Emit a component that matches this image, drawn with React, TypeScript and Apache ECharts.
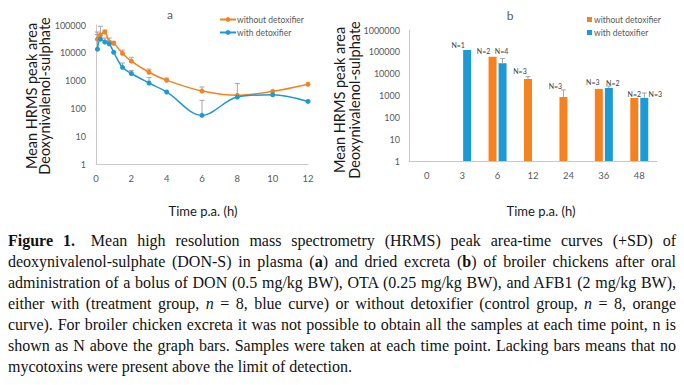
import React, { useEffect, useRef } from 'react';
import * as echarts from 'echarts';

// ---- Panel a: plasma (time in h) ----
const times = [0.083, 0.25, 0.5, 0.75, 1, 1.5, 2, 3, 4, 6, 8, 10, 12];
const plasmaWithout = [31000, 44000, 56000, 24500, 22000, 9500, 5000, 2000, 1030, 420, 295, 410, 740];
const plasmaWith = [13500, 31000, 24500, 21000, 10500, 3000, 1800, 820, 390, 56, 256, 310, 178];
const plasmaWithoutTop = [56000, 90000, 65000, 34000, 26000, 12500, 6900, 2600, 1230, 590, 780, null, null];
const plasmaWithTop = [45000, null, 34000, 26000, null, 4300, 2300, 1300, null, 195, null, null, null];
const xTicksA = [0, 2, 4, 6, 8, 10, 12];

// ---- Panel b: excreta ----
const categoriesB = ['0', '3', '6', '12', '24', '36', '48'];
const excretaWithout = [null, null, 60000, 5700, 850, 2000, 770];
const excretaWith = [null, 121000, 30000, null, null, 2200, 780];
const excretaWithoutTop = [null, null, null, 7300, 1800, null, null];
const excretaWithTop = [null, null, 50000, null, null, 2700, 1300];
const nWithout = [null, null, 2, 3, 3, 3, 2];
const nWith = [null, 1, 4, null, null, 2, 3];

const seriesNames = ['without detoxifier', 'with detoxifier'];

const ORANGE = '#F5821F';
const BLUE = '#1B9AD6';
const GREY_TXT = '#595959';
const AXIS = '#c9c9c9';
const FONT = 'Lato, "Noto Sans", sans-serif';

// label offsets (style only)
const offWithout: (number[] | null)[] = [null, null, [-9, 0], [-8, -2.5], [-8, -5.5], [-6, -1.5], [0, 1.5]];
const offWith: (number[] | null)[] = [null, [-9, 0], [-1, -6.5], null, null, [4, 0], [11, 1.5]];

function errLineItem(p0: number[], p1: number[]) {
  const st = { stroke: '#a6a6a6', lineWidth: 1 };
  return {
    type: 'group',
    children: [
      { type: 'line', shape: { x1: p0[0], y1: p0[1], x2: p1[0], y2: p1[1] }, style: st },
      { type: 'line', shape: { x1: p1[0] - 2.5, y1: p1[1], x2: p1[0] + 2.5, y2: p1[1] }, style: st },
    ],
  };
}

function errSeriesA(means: number[], tops: (number | null)[], z: number) {
  const data: number[][] = [];
  times.forEach((t, i) => {
    const tp = tops[i];
    if (tp != null) data.push([t, means[i], tp]);
  });
  return {
    type: 'custom',
    xAxisIndex: 0,
    yAxisIndex: 0,
    z,
    silent: true,
    encode: { x: 0, y: [1, 2] },
    data,
    renderItem: (_p: any, api: any) => {
      const p0 = api.coord([api.value(0), api.value(1)]);
      const p1 = api.coord([api.value(0), api.value(2)]);
      return errLineItem(p0, p1);
    },
  };
}

function errSeriesB(means: (number | null)[], tops: (number | null)[], dx: number) {
  const data: number[][] = [];
  categoriesB.forEach((_c, i) => {
    const tp = tops[i];
    const m = means[i];
    if (tp != null && m != null) data.push([i, m, tp]);
  });
  return {
    type: 'custom',
    xAxisIndex: 1,
    yAxisIndex: 1,
    z: 5,
    silent: true,
    encode: { x: 0, y: [1, 2] },
    data,
    renderItem: (_p: any, api: any) => {
      const a = api.coord([api.value(0), api.value(1)]);
      const b = api.coord([api.value(0), api.value(2)]);
      return errLineItem([a[0] + dx, a[1]], [b[0] + dx, b[1]]);
    },
  };
}

function barData(vals: (number | null)[], ns: (number | null)[], offs: (number[] | null)[]) {
  return vals.map((v, i) => {
    if (v == null) return null;
    const n = ns[i];
    return {
      value: v,
      label: n != null ? { show: true, formatter: 'N=' + n, offset: offs[i] || [0, 0] } : { show: false },
    };
  });
}

const logFmt = (v: number) => String(Math.round(v));

function buildOption(): any {
  return {
    animation: false,
    textStyle: { fontFamily: FONT },
    grid: [
      { left: 96, top: 25, width: 212, height: 139 },
      { left: 409, top: 30, width: 248, height: 131 },
    ],
    xAxis: [
      {
        type: 'value',
        gridIndex: 0,
        min: xTicksA[0],
        max: xTicksA[xTicksA.length - 1],
        interval: xTicksA[1] - xTicksA[0],
        splitLine: { show: false },
        axisTick: { show: false },
        axisLine: { show: true, lineStyle: { color: AXIS, width: 1 } },
        axisLabel: { color: GREY_TXT, fontSize: 9.5, margin: 9, fontFamily: FONT },
      },
      {
        type: 'category',
        gridIndex: 1,
        data: categoriesB,
        boundaryGap: true,
        splitLine: { show: false },
        axisTick: { show: false },
        axisLine: { show: true, lineStyle: { color: AXIS, width: 1 } },
        axisLabel: { color: GREY_TXT, fontSize: 9.5, margin: 9, fontFamily: FONT },
      },
    ],
    yAxis: [
      {
        type: 'log',
        gridIndex: 0,
        logBase: 10,
        min: 1,
        max: 100000,
        splitLine: { show: false },
        axisTick: { show: false },
        axisLine: { show: true, lineStyle: { color: AXIS, width: 1 } },
        axisLabel: { color: GREY_TXT, fontSize: 9, margin: 10, formatter: logFmt, fontFamily: FONT },
      },
      {
        type: 'log',
        gridIndex: 1,
        logBase: 10,
        min: 1,
        max: 1000000,
        splitLine: { show: false },
        axisTick: { show: false },
        axisLine: { show: true, lineStyle: { color: AXIS, width: 1 } },
        axisLabel: { color: GREY_TXT, fontSize: 9, margin: 9, formatter: logFmt, fontFamily: FONT },
      },
    ],
    legend: [
      {
        left: 214,
        top: 10,
        orient: 'vertical',
        itemWidth: 16,
        itemHeight: 6,
        itemGap: 4,
        data: seriesNames,
        textStyle: { color: GREY_TXT, fontSize: 8.5, fontFamily: FONT, padding: [0, 0, 0, -4] },
      },
      {
        left: 582,
        top: 10,
        orient: 'vertical',
        icon: 'rect',
        itemWidth: 5,
        itemHeight: 5,
        itemGap: 4,
        data: seriesNames,
        textStyle: { color: GREY_TXT, fontSize: 8.5, fontFamily: FONT, padding: [0, 0, 0, -3] },
      },
    ],
    graphic: [
      { type: 'text', x: 170, y: 14, style: { text: 'a', fill: GREY_TXT, font: '12px ' + FONT, align: 'center', verticalAlign: 'middle' } },
      { type: 'text', x: 510, y: 15, style: { text: 'b', fill: GREY_TXT, font: '12px ' + FONT, align: 'center', verticalAlign: 'middle' } },
      {
        type: 'text', x: 38, y: 96, rotation: Math.PI / 2,
        style: { text: 'Mean HRMS peak area\nDeoxynivalenol-sulphate', fill: '#1a1a1a', font: '14.5px ' + FONT, lineHeight: 13, align: 'center', verticalAlign: 'middle' },
      },
      {
        type: 'text', x: 347, y: 100, rotation: Math.PI / 2,
        style: { text: 'Mean HRMS peak area\nDeoxynivalenol-sulphate', fill: '#1a1a1a', font: '14.5px ' + FONT, lineHeight: 15, align: 'center', verticalAlign: 'middle' },
      },
      { type: 'text', x: 203, y: 211, style: { text: 'Time p.a. (h)', fill: '#1a1a1a', font: '13px ' + FONT, align: 'center', verticalAlign: 'middle' } },
      { type: 'text', x: 541, y: 211, style: { text: 'Time p.a. (h)', fill: '#1a1a1a', font: '13px ' + FONT, align: 'center', verticalAlign: 'middle' } },
    ],
    series: [
      {
        name: seriesNames[0],
        type: 'line',
        xAxisIndex: 0,
        yAxisIndex: 0,
        z: 3,
        smooth: 0.35,
        symbol: 'circle',
        symbolSize: 5,
        itemStyle: { color: ORANGE },
        lineStyle: { color: ORANGE, width: 1.5 },
        data: times.map((t, i) => [t, plasmaWithout[i]]),
      },
      {
        name: seriesNames[1],
        type: 'line',
        xAxisIndex: 0,
        yAxisIndex: 0,
        z: 3,
        smooth: 0.35,
        symbol: 'circle',
        symbolSize: 5,
        itemStyle: { color: BLUE },
        lineStyle: { color: BLUE, width: 1.5 },
        data: times.map((t, i) => [t, plasmaWith[i]]),
      },
      errSeriesA(plasmaWithout, plasmaWithoutTop, 1),
      errSeriesA(plasmaWith, plasmaWithTop, 1),
      {
        name: seriesNames[0],
        type: 'bar',
        xAxisIndex: 1,
        yAxisIndex: 1,
        barWidth: 8,
        barGap: '25%',
        itemStyle: { color: ORANGE },
        label: { position: 'top', distance: 2, fontSize: 7, color: '#404040', fontFamily: FONT },
        data: barData(excretaWithout, nWithout, offWithout),
      },
      {
        name: seriesNames[1],
        type: 'bar',
        xAxisIndex: 1,
        yAxisIndex: 1,
        barWidth: 8,
        barGap: '25%',
        itemStyle: { color: BLUE },
        label: { position: 'top', distance: 2, fontSize: 7, color: '#404040', fontFamily: FONT },
        data: barData(excretaWith, nWith, offWith),
      },
      errSeriesB(excretaWithout, excretaWithoutTop, -5),
      errSeriesB(excretaWith, excretaWithTop, 5),
    ],
  };
}

const lineStyleJ: React.CSSProperties = { textAlign: 'justify', textAlignLast: 'justify' as any, whiteSpace: 'nowrap' };

export default function App() {
  const ref = useRef<HTMLDivElement>(null);
  useEffect(() => {
    if (!ref.current) return;
    const chart = echarts.init(ref.current, null, { renderer: 'svg' });
    chart.setOption(buildOption());
    return () => chart.dispose();
  }, []);
  return (
    <div style={{ position: 'absolute', left: 0, top: 0, width: 684, height: 385, background: '#fff', overflow: 'hidden' }}>
      <div ref={ref} style={{ position: 'absolute', left: 0, top: 0, width: 684, height: 228 }} />
      <div
        style={{
          position: 'absolute', left: 8, top: 230, width: 668,
          fontFamily: '"Liberation Serif", "Times New Roman", serif', fontSize: 16, lineHeight: '21px', color: '#111',
        }}
      >
        <div style={lineStyleJ}><b style={{ marginRight: 6 }}>Figure 1.</b> Mean high resolution mass spectrometry (HRMS) peak area-time curves (+SD) of</div>
        <div style={lineStyleJ}>deoxynivalenol-sulphate (DON-S) in plasma (<b>a</b>) and dried excreta (<b>b</b>) of broiler chickens after oral</div>
        <div style={lineStyleJ}>administration of a bolus of DON (0.5 mg/kg BW), OTA (0.25 mg/kg BW), and AFB1 (2 mg/kg BW),</div>
        <div style={lineStyleJ}>either with (treatment group, <i>n</i> = 8, blue curve) or without detoxifier (control group, <i>n</i> = 8, orange</div>
        <div style={lineStyleJ}>curve). For broiler chicken excreta it was not possible to obtain all the samples at each time point, n is</div>
        <div style={lineStyleJ}>shown as N above the graph bars. Samples were taken at each time point. Lacking bars means that no</div>
        <div>mycotoxins were present above the limit of detection.</div>
      </div>
    </div>
  );
}
